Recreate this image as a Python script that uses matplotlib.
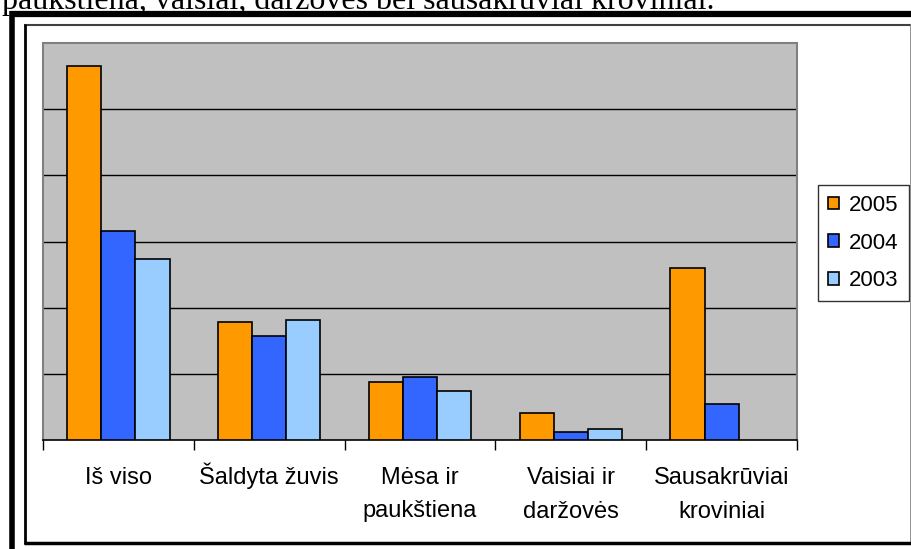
import numpy as np
import matplotlib.pyplot as plt
from matplotlib.lines import Line2D

plt.rcParams['font.family'] = ['Liberation Sans', 'DejaVu Sans']

categories = ["Iš viso", "Šaldyta žuvis", "Mėsa ir\npaukštiena",
              "Vaisiai ir\ndaržovės", "Sausakrūviai\nkroviniai"]
years = ["2005", "2004", "2003"]
v2005 = [5.65, 1.78, 0.88, 0.41, 2.60]
v2004 = [3.16, 1.57, 0.95, 0.12, 0.55]
v2003 = [2.73, 1.81, 0.74, 0.17, np.nan]
colors = ["#FF9900", "#3366FF", "#99CCFF"]

W, H = 912, 549
fig = plt.figure(figsize=(W/100, H/100), dpi=100)
fig.patch.set_facecolor("white")


def fx(px):
    return px / W


def fy(py):
    return 1 - py / H


ax_top, ax_bot = 43, 440
ax = fig.add_axes([fx(43), fy(ax_bot), fx(797) - fx(43), fy(ax_top) - fy(ax_bot)])
ax.set_facecolor("#C0C0C0")

x = np.arange(len(categories))
w = 0.226
for i, (vals, lab) in enumerate(zip([v2005, v2004, v2003], years)):
    ax.bar(x + (i - 1) * w, vals, w, color=colors[i], edgecolor="black",
           linewidth=1.2, label=lab, zorder=3)

ax.set_xlim(-0.5, len(categories) - 0.5)
ax.set_ylim(0, 6)
ax.set_yticks(np.arange(1, 6))
ax.yaxis.grid(True, color="black", linewidth=1, zorder=1)
ax.tick_params(axis="y", left=False, labelleft=False)

ax.set_xticks(np.arange(-0.5, len(categories)), labels=[])
ax.tick_params(axis="x", which="major", direction="out", length=7, width=1, color="black")

# category labels, one text per line so the baselines line up
for xi, cat in zip(x, categories):
    for k, line in enumerate(cat.split("\n")):
        base = 484 + k * 33.5
        ax.text(xi, -(base - ax_bot) / (ax_bot - ax_top), line,
                transform=ax.get_xaxis_transform(), ha="center", va="baseline",
                fontsize=17)

for s in ["left", "top", "right"]:
    ax.spines[s].set_color("#808080")
    ax.spines[s].set_linewidth(1.5)
ax.spines["bottom"].set_color("black")
ax.spines["bottom"].set_linewidth(1.2)

leg = ax.legend(loc="upper left", bbox_to_anchor=(fx(818), fy(185)),
                bbox_transform=fig.transFigure, borderaxespad=0, fancybox=False,
                edgecolor="black", fontsize=16, handlelength=0.5, handleheight=0.5,
                handletextpad=0.45, labelspacing=0.75, borderpad=0.45)
leg.get_frame().set_linewidth(1)

# chart border with shadow
def hline(x0, x1, y, lw, c):
    fig.add_artist(Line2D([fx(x0), fx(x1)], [fy(y), fy(y)], color=c, linewidth=lw,
                          solid_capstyle="butt"))


def vline(xp, y0, y1, lw, c):
    fig.add_artist(Line2D([fx(xp), fx(xp)], [fy(y0), fy(y1)], color=c, linewidth=lw,
                          solid_capstyle="butt"))


hline(24, 911, 25, 1.5, "#404040")
vline(911, 24, 543, 1.2, "#808080")
vline(25, 24, 544, 2.0, "black")
hline(24, 911, 542.5, 2.5, "black")

# page frame
hline(10, W, 14, 4.5, "black")
vline(12.5, 11, H, 4.0, "black")

fig.text(fx(715), fy(9), "paukštiena, vaisiai, daržovės bei sausakrūviai kroviniai.",
         ha="right", va="baseline", fontsize=23, family=["Liberation Serif", "DejaVu Serif"])

plt.savefig("out.png", dpi=100, facecolor="white")
